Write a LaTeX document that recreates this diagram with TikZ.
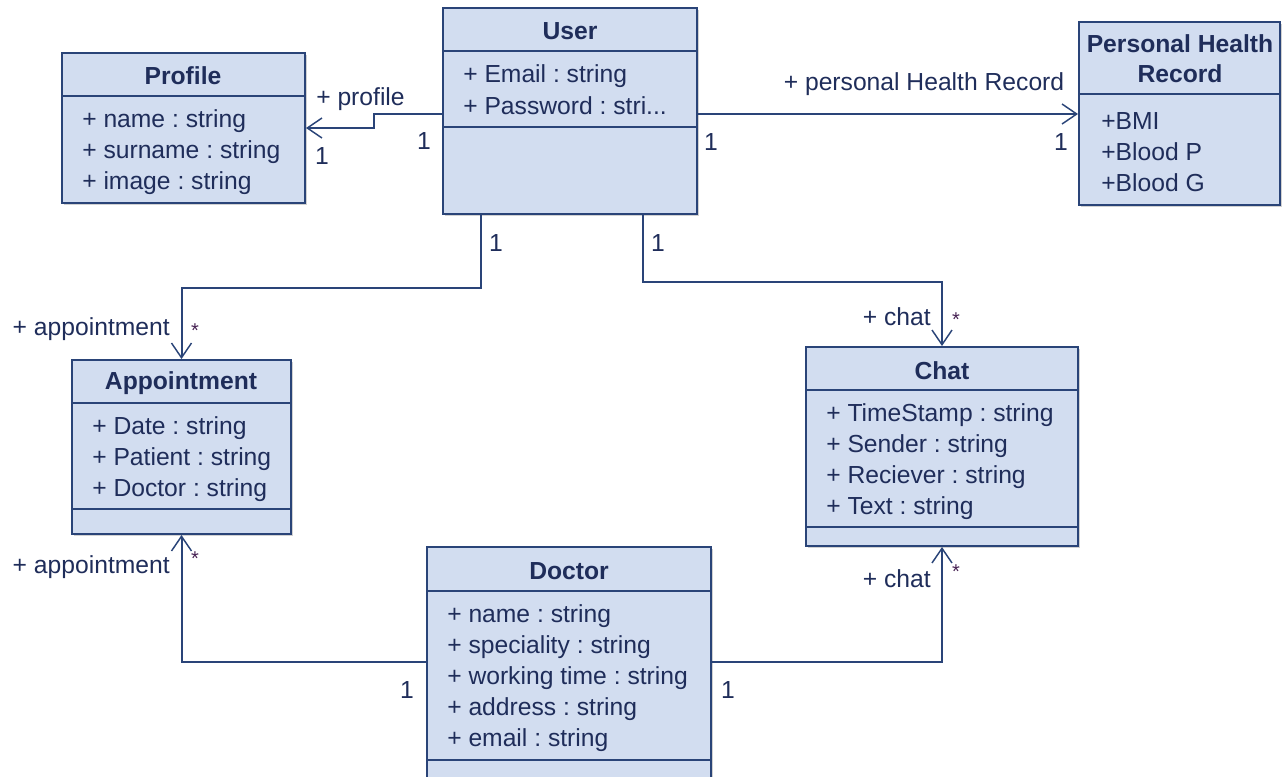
\documentclass[tikz,border=0pt]{standalone}
\usepackage{fontspec}
\setmainfont{Liberation Sans}
\usetikzlibrary{arrows.meta,fit,shadows}

\definecolor{umlfill}{HTML}{D2DDF0}
\definecolor{umlline}{HTML}{2A4478}
\definecolor{umltext}{HTML}{1F2D5A}

\tikzset{
  classbox/.style={draw=umlline, fill=umlfill, line width=1.5pt, inner sep=0pt,
    drop shadow={shadow xshift=1.6pt, shadow yshift=-1.6pt, opacity=0.3, fill=black!60}},
  divider/.style={draw=umlline, line width=1.5pt},
  txt/.style={text=umltext, inner sep=0pt, yshift=-1.5pt,
    font=\fontsize{18.5}{22.5}\selectfont\frenchspacing},
  title/.style={txt, font=\fontsize{18.5}{22.5}\selectfont\bfseries, align=center},
  attr/.style={txt, anchor=west},
  role/.style={txt},
  mult/.style={txt},
  star/.style={inner sep=0pt, font=\fontsize{15}{17}\selectfont, text=umltext!75!purple},
  assoc/.style={draw=umlline, line width=1.5pt,
    -{Straight Barb[length=11pt,width=15pt,line width=1.1pt]}},
}

\begin{document}
\begin{tikzpicture}[x=0.75pt, y=-0.75pt]
\useasboundingbox (0,0) rectangle (1285,776);
\clip (0,0) rectangle (1285,776);

% ---------- class boxes ----------
\node[classbox, fit={(62,53) (305,203)}] (profile) {};
\node[classbox, fit={(443,8) (697,214)}] (user) {};
\node[classbox, fit={(1079,22) (1280,205)}] (phr) {};
\node[classbox, fit={(72,360) (291,534)}] (appt) {};
\node[classbox, fit={(806,347) (1078,546)}] (chat) {};
\node[classbox, fit={(427,547) (711,790)}] (doctor) {};

% compartment dividers
\draw[divider] (62,96) -- (305,96);
\draw[divider] (443,51) -- (697,51);
\draw[divider] (443,127) -- (697,127);
\draw[divider] (1079,94) -- (1280,94);
\draw[divider] (72,403) -- (291,403);
\draw[divider] (72,509) -- (291,509);
\draw[divider] (806,390) -- (1078,390);
\draw[divider] (806,527) -- (1078,527);
\draw[divider] (427,591) -- (711,591);
\draw[divider] (427,760) -- (711,760);

% ---------- class names ----------
\node[title] (profile-name) at (183,74) {Profile};
\node[title] (user-name) at (570,29) {User};
\node[title] (phr-name) at (1180,57) {Personal Health\\Record};
\node[title] (appt-name) at (181,381) {Appointment};
\node[title] (chat-name) at (942,369) {Chat};
\node[title] (doctor-name) at (569,569) {Doctor};

% ---------- attributes ----------
\node[attr] (profile-a1) at (82,119) {+ name : string};
\node[attr] (profile-a2) at (82,150) {+ surname : string};
\node[attr] (profile-a3) at (82,181) {+ image : string};

\node[attr] (user-a1) at (463,74) {+ Email : string};
\node[attr] (user-a2) at (463,104) {+ Password : stri...};

\node[attr] (phr-a1) at (1101,119) {+BMI};
\node[attr] (phr-a2) at (1101,150) {+Blood P};
\node[attr] (phr-a3) at (1101,181) {+Blood G};

\node[attr] (appt-a1) at (92,426) {+ Date : string};
\node[attr] (appt-a2) at (92,457) {+ Patient : string};
\node[attr] (appt-a3) at (92,488) {+ Doctor : string};

\node[attr] (chat-a1) at (826,413) {+ TimeStamp : string};
\node[attr] (chat-a2) at (826,444) {+ Sender : string};
\node[attr] (chat-a3) at (826,475) {+ Reciever : string};
\node[attr] (chat-a4) at (826,506) {+ Text : string};

\node[attr] (doctor-a1) at (447,614) {+ name : string};
\node[attr] (doctor-a2) at (447,645) {+ speciality : string};
\node[attr] (doctor-a3) at (447,676) {+ working time : string};
\node[attr] (doctor-a4) at (447,707) {+ address : string};
\node[attr] (doctor-a5) at (447,738) {+ email : string};

% ---------- associations ----------
\draw[assoc] (user.west |- 0,114) -- (374,114) -- (374,128) -- (profile.east);
\draw[assoc] (user.east |- 0,114) -- (phr.west |- 0,114);
\draw[assoc] (user.south -| 481,0) -- (481,288) -| (appt.north);
\draw[assoc] (user.south -| 643,0) -- (643,282) -| (chat.north);
\draw[assoc] (doctor.west |- 0,662) -| (appt.south);
\draw[assoc] (doctor.east |- 0,662) -| (chat.south);

% ---------- roles and multiplicities ----------
\node[role, anchor=west] (r-profile) at (316,97) {+ profile};
\node[mult] (m-profile) at (322,154) {1};
\node[mult] (m-user-profile) at (424,139) {1};

\node[role] (r-phr) at (924,82) {+ personal Health Record};
\node[mult] (m-user-phr) at (711,140) {1};
\node[mult] (m-phr) at (1061,140) {1};

\node[mult] (m-user-appt) at (496,241) {1};
\node[role, anchor=east] (r-appt-top) at (170,327) {+ appointment};
\node[star] (s-appt-top) at (195,331) {*};

\node[mult] (m-user-chat) at (658,241) {1};
\node[role, anchor=east] (r-chat-top) at (931,315) {+ chat};
\node[star] (s-chat-top) at (956,320) {*};

\node[role, anchor=east] (r-appt-bot) at (170,565) {+ appointment};
\node[star] (s-appt-bot) at (195,559) {*};
\node[mult] (m-doctor-appt) at (407,688) {1};

\node[role, anchor=east] (r-chat-bot) at (931,577) {+ chat};
\node[star] (s-chat-bot) at (956,572) {*};
\node[mult] (m-doctor-chat) at (728,688) {1};
\end{tikzpicture}
\end{document}
